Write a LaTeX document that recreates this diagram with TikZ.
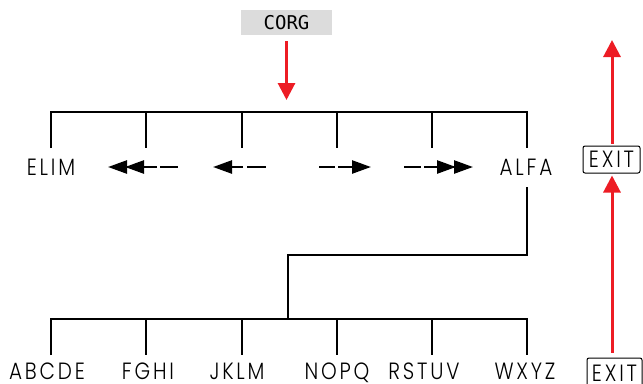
\documentclass[tikz,border=0pt]{standalone}
\usepackage{fontspec}
\usetikzlibrary{arrows.meta}
\newfontfamily\labfont[LetterSpace=12,FakeStretch=0.85]{Poppins Light}
\newfontfamily\pixfont{DejaVu Sans Mono}
\definecolor{arrred}{RGB}{237,28,36}
\definecolor{corggray}{RGB}{220,220,220}
\tikzset{
  lab/.style={inner sep=0pt, anchor=base, text depth=0pt, font=\labfont\fontsize{23.5bp}{24bp}\selectfont},
  tree/.style={line width=2.5bp, black},
  redarrow/.style={line width=3bp, arrred, -{Triangle[length=17bp,width=17bp]}},
  sarrow/.style={line width=2.5bp, -{Triangle[length=19bp,width=13bp]}},
  darrow/.style={line width=2.5bp, -{Triangle[length=19bp,width=13bp,sep=-2bp] Triangle[length=19bp,width=13bp]}},
  dashseg/.style={line width=2.5bp},
  exitbox/.style={draw, line width=1bp, rounded corners=2bp, inner sep=0pt,
    minimum width=57bp, minimum height=27bp, font=\labfont\fontsize{23.5bp}{24bp}\selectfont},
}
\begin{document}
\begin{tikzpicture}[x=1bp,y=-1bp]
\useasboundingbox (0,0) rectangle (643,383);
% CORG
\node[fill=corggray, minimum width=91bp, minimum height=25bp, inner sep=0pt,
      font=\pixfont\fontsize{19bp}{19bp}\selectfont] (corg) at (286.5,22.5) {CORG};
\coordinate (corgtip) at (286.5,100);
\draw[redarrow] ([yshift=-6bp]corg.south) -- (corgtip);
% top tree
\foreach \n/\x in {1/51,2/146,3/242,4/337,5/432,6/527}{
  \coordinate (ta\n) at (\x,112);
  \coordinate (tb\n) at (\x,148);
}
\draw[tree] (tb1) -- (ta1) -- (ta6) -- (tb6);
\foreach \n in {2,3,4,5}{ \draw[tree] (ta\n) -- (tb\n); }
\node[lab] (elim) at (51,175) {ELIM};
\node[lab] (alfa) at (526,175) {ALFA};
% arrows row
\coordinate (a1s) at (157,167); \coordinate (a1e) at (108,167);
\coordinate (d1s) at (160,167); \coordinate (d1e) at (178,167);
\draw[darrow] (a1s) -- (a1e);
\draw[dashseg] (d1s) -- (d1e);
\coordinate (a2s) at (243,167); \coordinate (a2e) at (213,167);
\coordinate (d2s) at (247,167); \coordinate (d2e) at (266,167);
\draw[sarrow] (a2s) -- (a2e);
\draw[dashseg] (d2s) -- (d2e);
\coordinate (d3s) at (319,167); \coordinate (d3e) at (335,167);
\coordinate (a3s) at (338,167); \coordinate (a3e) at (371,167);
\draw[dashseg] (d3s) -- (d3e);
\draw[sarrow] (a3s) -- (a3e);
\coordinate (d4s) at (404,167); \coordinate (d4e) at (421,167);
\coordinate (a4s) at (424,167); \coordinate (a4e) at (473,167);
\draw[dashseg] (d4s) -- (d4e);
\draw[darrow] (a4s) -- (a4e);
% link
\coordinate (l1) at (527,187);
\coordinate (l2) at (527,255);
\coordinate (l3) at (288,255);
\coordinate (l4) at (288,319);
\draw[tree] (l1) -- (l2) -- (l3) -- (l4);
% bottom tree
\foreach \n/\x in {1/51,2/146,3/242,4/337,5/432,6/527}{
  \coordinate (ba\n) at (\x,319);
  \coordinate (bb\n) at (\x,355);
}
\draw[tree] (bb1) -- (ba1) -- (ba6) -- (bb6);
\foreach \n in {2,3,4,5}{ \draw[tree] (ba\n) -- (bb\n); }
\node[lab] (n1) at (47,379.5) {ABCDE};
\node[lab] (n2) at (148,379.5) {FGHI};
\node[lab] (n3) at (237,379.5) {JKLM};
\node[lab] (n4) at (337,379.5) {NOPQ};
\node[lab] (n5) at (424,379.5) {RSTUV};
\node[lab] (n6) at (525,379.5) {WXYZ};
% EXIT
\node[exitbox] (exit1) at (611.5,159.5) {EXIT};
\node[exitbox, minimum width=55bp, minimum height=30bp] (exit2) at (614.5,373) {EXIT};
\coordinate (toptip) at (612,40);
\draw[redarrow] ([yshift=2bp]exit1.north -| toptip) -- (toptip);
\draw[redarrow] ([yshift=5bp]exit2.north -| toptip) -- ([yshift=-2bp]exit1.south -| toptip);
\end{tikzpicture}
\end{document}
